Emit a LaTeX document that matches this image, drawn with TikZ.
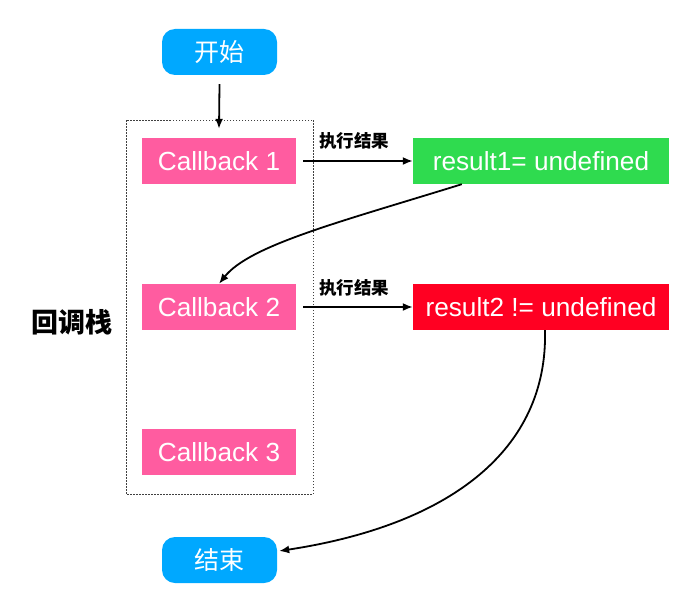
\documentclass[tikz,border=0pt]{standalone}
\usepackage{fontspec}
\setmainfont{Liberation Sans}
\newfontfamily\cjk{Noto Sans CJK SC}
\usetikzlibrary{arrows.meta}
\definecolor{startblue}{RGB}{0,168,255}
\definecolor{cbpink}{RGB}{255,92,160}
\definecolor{resgreen}{RGB}{47,219,79}
\definecolor{resred}{RGB}{255,0,34}
\tikzset{
  terminal/.style={fill=startblue, rounded corners=13pt, minimum width=115pt, minimum height=46pt, inner sep=0pt, text=white, font=\cjk\fontsize{25}{30}\selectfont},
  cbbox/.style={fill=cbpink, minimum width=154pt, minimum height=46pt, inner sep=0pt, text=white, font=\fontsize{26.2}{31}\selectfont},
  resbox/.style={minimum width=256pt, minimum height=46pt, inner sep=0pt, text=white, font=\fontsize{26.2}{31}\selectfont},
  edgelabel/.style={inner sep=0pt, text=black, font=\cjk\bfseries\fontsize{17.5}{20}\selectfont},
  conn/.style={line width=1.8pt, -{Latex[length=10pt,width=8pt]}},
  stackframe/.style={draw=black!75, line width=0.8pt, dash pattern=on 1.5pt off 1.5pt}
}
\begin{document}
\begin{tikzpicture}[x=1pt,y=-1pt]
\useasboundingbox[fill=white] (0,0) rectangle (700,599);
\draw[stackframe] (126,120) rectangle (313,494);
\node[terminal] (start) at (219.5,52) {开始};
\node[terminal] (end) at (219.5,560) {结束};
\node[cbbox] (cb1) at (219,161) {Callback 1};
\node[cbbox] (cb2) at (219,307) {Callback 2};
\node[cbbox] (cb3) at (219,452) {Callback 3};
\node[resbox, fill=resgreen] (g) at (541,161) {result1= undefined};
\node[resbox, fill=resred] (r) at (541,307) {result2 != undefined};
\node[edgelabel] (l1) at (354,141) {执行结果};
\node[edgelabel] (l2) at (354,288) {执行结果};
\node[inner sep=0pt, font=\cjk\bfseries\fontsize{27}{32}\selectfont] (stk) at (72,322) {回调栈};
\draw[conn] ([yshift=-9pt]start.south) -- ([yshift=9pt]cb1.north);
\draw[conn] ([xshift=7pt]cb1.east) -- (g.west);
\draw[conn] ([xshift=7pt]cb2.east) -- (r.west);
\draw[conn] ([xshift=49pt]g.south west) .. controls (340,222) and (250,245) .. (cb2.north);
\draw[conn] ([xshift=4pt]r.south) .. controls (548,450) and (450,525) .. ([xshift=2pt,yshift=9pt]end.east);
\end{tikzpicture}
\end{document}
